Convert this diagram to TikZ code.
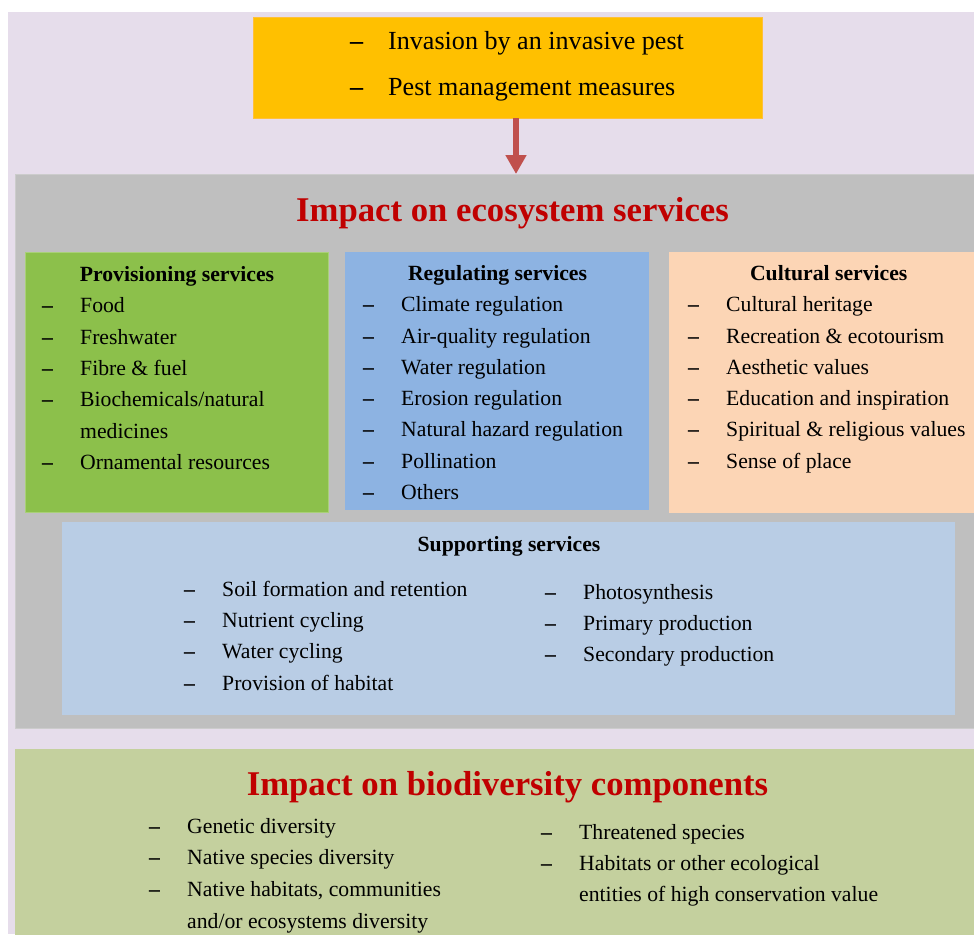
\documentclass[tikz,border=0pt]{standalone}
\usepackage{fontspec}
\setmainfont{Liberation Serif}
\usetikzlibrary{arrows.meta}
\definecolor{bgl}{RGB}{230,221,235}
\definecolor{orangeF}{RGB}{255,192,0}
\definecolor{grayF}{RGB}{191,191,191}
\definecolor{greenF}{RGB}{140,192,75}
\definecolor{blueF}{RGB}{141,179,226}
\definecolor{peachF}{RGB}{252,213,181}
\definecolor{suppF}{RGB}{185,205,229}
\definecolor{oliveF}{RGB}{196,208,158}
\definecolor{titleR}{RGB}{192,0,0}
\definecolor{arrowC}{RGB}{192,80,77}
\newcommand\dsh{\makebox[38pt][l]{\textbf{–}}}
\newcommand\nodsh{\hspace*{38pt}}
\newcommand\itemlist[5]{%
  \foreach \t [count=\k from 0] in {#5} {\node[txt] (#1\k) at (#2, #3+\k*#4) {\t};}}
\tikzset{
  panel/.style={anchor=north west, inner sep=0, outer sep=0, line width=0.8pt},
  txt/.style={anchor=base west, inner sep=0, font=\fontsize{21.7}{26}\selectfont},
  head/.style={anchor=base, inner sep=0, font=\fontsize{21.7}{26}\selectfont\bfseries},
  bigtitle/.style={anchor=base, inner sep=0, text=titleR, font=\fontsize{34.7}{40}\selectfont\bfseries},
}
\begin{document}
\begin{tikzpicture}[x=1pt,y=-1pt]
\useasboundingbox (0,0) rectangle (974,934);
\fill[white] (0,0) rectangle (974,934);
\fill[bgl] (8,12) rectangle (974,934);
% panels
\node[panel, fill=orangeF, draw=orangeF!70!pink, minimum width=509pt, minimum height=101pt] (top) at (253,17) {};
\node[panel, fill=grayF, draw=grayF!80!white, minimum width=975pt, minimum height=554pt] (eco) at (15,174) {};
\node[panel, fill=greenF, draw=greenF!75!white, minimum width=303pt, minimum height=260pt] (prov) at (25,252) {};
\node[panel, fill=blueF, minimum width=304pt, minimum height=258pt] (reg) at (345,252) {};
\node[panel, fill=peachF, minimum width=330pt, minimum height=261pt] (cult) at (669,252) {};
\node[panel, fill=suppF, minimum width=893pt, minimum height=193pt] (supp) at (62,522) {};
\node[panel, fill=oliveF, minimum width=975pt, minimum height=200pt] (bio) at (15,749) {};
% arrow
\draw[arrowC, line width=5.5pt, -{Triangle[width=20pt,length=19pt]}]
  ([xshift=8.5pt]top.south) -- ([xshift=8.5pt]top.south |- eco.north);
% top text
\foreach \t [count=\k from 0] in {Invasion by an invasive pest, Pest management measures}
  {\node[txt, font=\fontsize{26.1}{30}\selectfont] (top\k) at (350, 50+\k*45) {\dsh\t};}
% titles
\node[bigtitle] (ecotitle) at (512.5,221.7) {Impact on ecosystem services};
\node[bigtitle] (biotitle) at (507.5,795) {Impact on biodiversity components};
% headings
\node[head] (provh) at (177,281) {Provisioning services};
\node[head] (regh) at (497.5,280) {Regulating services};
\node[head] (culth) at (828.7,280) {Cultural services};
\node[head] (supph) at (509,551.7) {Supporting services};
% lists
\itemlist{p}{42}{312.7}{31.4}{\dsh Food, \dsh Freshwater, \dsh Fibre \& fuel, \dsh Biochemicals/natural, \nodsh medicines, \dsh Ornamental resources}
\itemlist{r}{363}{311.7}{31.3}{\dsh Climate regulation, \dsh Air-quality regulation, \dsh Water regulation, \dsh Erosion regulation, \dsh Natural hazard regulation, \dsh Pollination, \dsh Others}
\itemlist{c}{688}{311.7}{31.3}{\dsh Cultural heritage, \dsh Recreation \& ecotourism, \dsh Aesthetic values, \dsh Education and inspiration, \dsh Spiritual \& religious values, \dsh Sense of place}
\itemlist{sl}{184}{596.7}{31.1}{\dsh Soil formation and retention, \dsh Nutrient cycling, \dsh Water cycling, \dsh Provision of habitat}
\itemlist{sr}{545}{599.3}{31.2}{\dsh Photosynthesis, \dsh Primary production, \dsh Secondary production}
\itemlist{bl}{149}{833}{31.9}{\dsh Genetic diversity, \dsh Native species diversity, {\dsh Native habitats, communities}, \nodsh and/or ecosystems diversity}
\itemlist{br}{541}{839.3}{31.2}{\dsh Threatened species, \dsh Habitats or other ecological, \nodsh entities of high conservation value}
\end{tikzpicture}
\end{document}
